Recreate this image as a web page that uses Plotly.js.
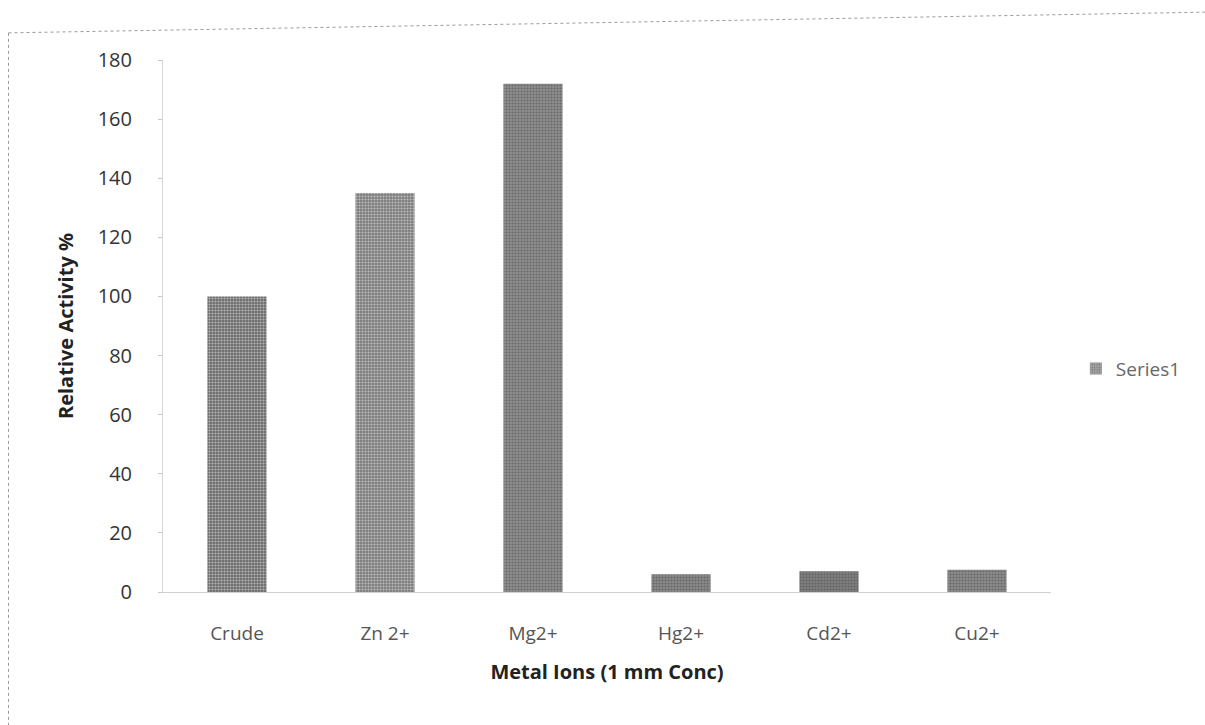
<!DOCTYPE html>
<html>
<head>
<meta charset="utf-8">
<script src="https://cdn.plot.ly/plotly-3.0.1.min.js"></script>
<style>html,body{margin:0;padding:0;background:#fff;}#chart{width:1205px;height:725px;}</style>
</head>
<body>
<div id="chart"></div>
<script>
const categories = ["Crude", "Zn 2+", "Mg2+", "Hg2+", "Cd2+", "Cu2+"];
const relativeActivity = [100, 135, 172, 6, 7, 7.5];
const seriesName = "Series1";
const yTickValues = [0, 20, 40, 60, 80, 100, 120, 140, 160, 180];

const barColors = ["#6c6c6c", "#7c7c7c", "#8e8e8e", "#8a8a8a", "#808080", "#8c8c8c"];

const trace = {
  type: "bar",
  x: categories,
  y: relativeActivity,
  name: seriesName,
  marker: {
    color: barColors,
    line: {width: 0},
    pattern: {shape: ".", fgcolor: "#444444", bgcolor: "#a8a8a8", size: 3, solidity: 0.4, fillmode: "overlay"}
  },
  showlegend: true,
  hoverinfo: "x+y"
};

const font = "'Open Sans', 'Noto Sans', sans-serif";

const layout = {
  width: 1205,
  height: 725,
  margin: {l: 163, r: 154, t: 60, b: 133, pad: 0, autoexpand: false},
  paper_bgcolor: "#ffffff",
  plot_bgcolor: "#ffffff",
  bargap: 0.6,
  font: {family: font, color: "#333", size: 20},
  showlegend: true,
  legend: {
    x: 1.028, y: 0.42, xanchor: "left", yanchor: "middle",
    font: {family: font, size: 19, color: "#666"},
    itemwidth: 30, bgcolor: "rgba(0,0,0,0)"
  },
  xaxis: {
    type: "category",
    showgrid: false,
    zeroline: false,
    showline: true,
    linecolor: "#d0d0d0",
    linewidth: 1,
    ticks: "",
    tickfont: {family: font, size: 19, color: "#555"},
    ticklabelstandoff: 24,
    title: {text: "Metal Ions (1 mm Conc)", font: {family: font, size: 20, color: "#222", weight: "bold"}, standoff: 20}
  },
  yaxis: {
    range: [0, 180],
    tickvals: yTickValues,
    ticktext: yTickValues.map(String),
    showgrid: false,
    zeroline: false,
    showline: true,
    linecolor: "#d8d8d8",
    linewidth: 1,
    ticks: "outside",
    ticklen: 4,
    tickcolor: "#c8c8c8",
    tickfont: {family: font, size: 20, color: "#333"},
    ticklabelstandoff: 22,
    title: {text: "Relative Activity %", font: {family: font, size: 20, color: "#222", weight: "bold"}, standoff: 18}
  },
  shapes: [
    {type: "line", xref: "paper", yref: "paper", x0: -0.174, y0: 1.051, x1: -0.174, y1: -0.26,
     line: {color: "#9a9a9a", width: 1, dash: "dot"}},
    {type: "line", xref: "paper", yref: "paper", x0: -0.174, y0: 1.051, x1: 1.175, y1: 1.09,
     line: {color: "#9a9a9a", width: 1, dash: "dot"}}
  ]
};

Plotly.newPlot("chart", [trace], layout, {displayModeBar: false, staticPlot: true});
</script>
</body>
</html>
